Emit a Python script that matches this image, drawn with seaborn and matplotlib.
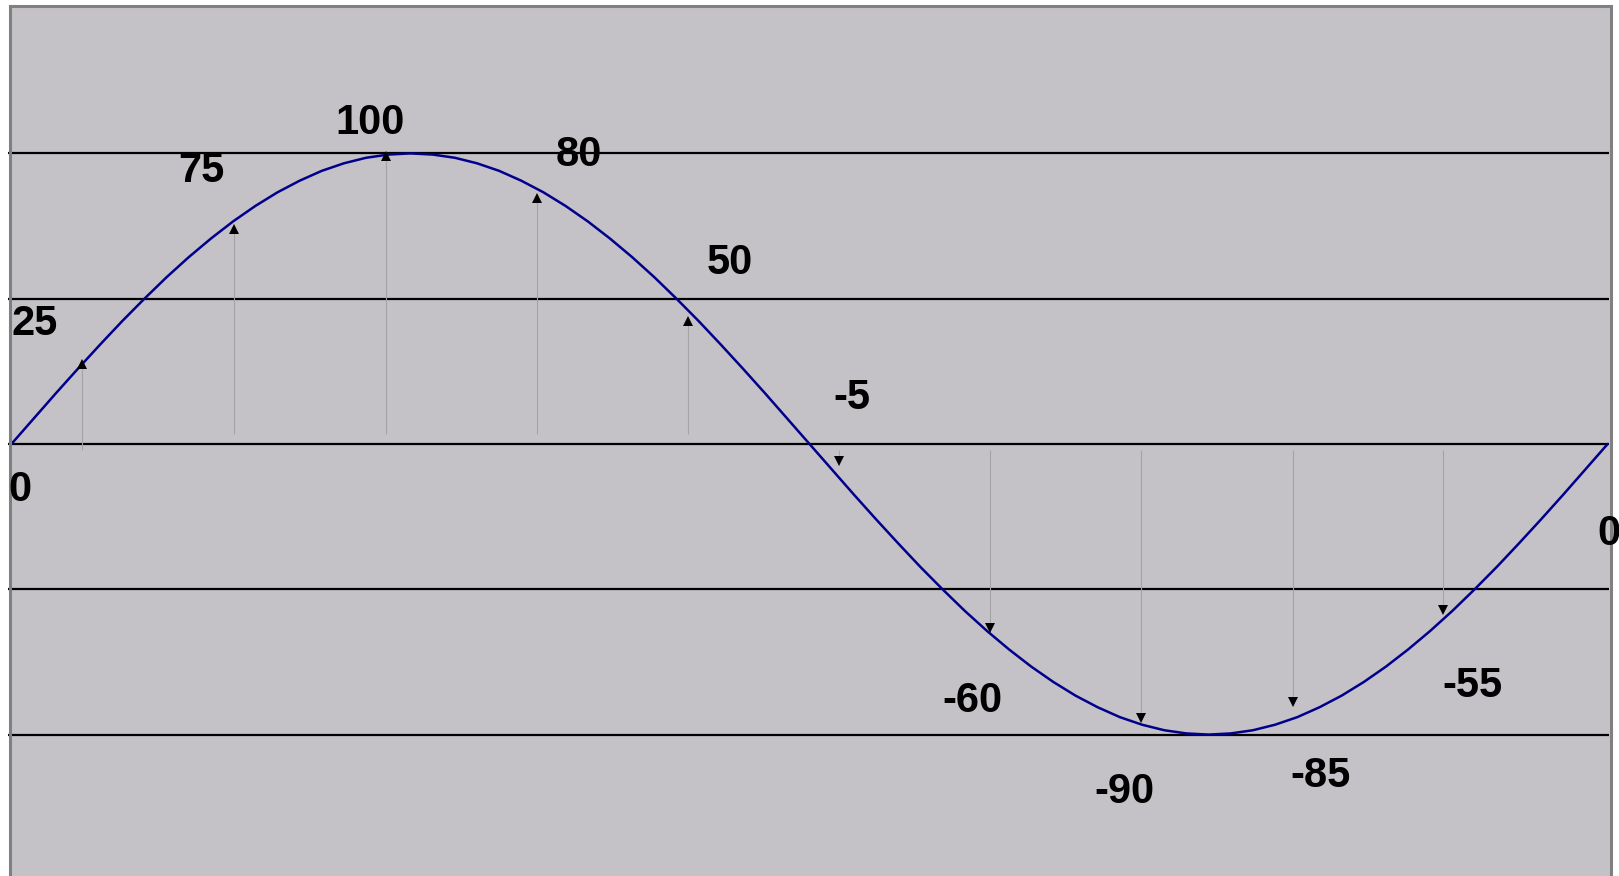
import matplotlib
matplotlib.use('Agg')
import matplotlib.pyplot as plt
import seaborn as sns
from matplotlib.patches import Rectangle

# wave, every 5 degrees over one period
wave_deg = list(range(0, 361, 5))
wave_amp = [0, 8.7, 17.4, 25.9, 34.2, 42.3, 50, 57.4, 64.3, 70.7, 76.6, 81.9, 86.6, 90.6, 94, 96.6, 98.5, 99.6,
            100, 99.6, 98.5, 96.6, 94, 90.6, 86.6, 81.9, 76.6, 70.7, 64.3, 57.4, 50, 42.3, 34.2, 25.9, 17.4, 8.7,
            0, -8.7, -17.4, -25.9, -34.2, -42.3, -50, -57.4, -64.3, -70.7, -76.6, -81.9, -86.6, -90.6, -94, -96.6,
            -98.5, -99.6, -100, -99.6, -98.5, -96.6, -94, -90.6, -86.6, -81.9, -76.6, -70.7, -64.3, -57.4, -50,
            -42.3, -34.2, -25.9, -17.4, -8.7, 0]

# sample arrows
sample_deg = [16, 50.3, 84.4, 118.5, 152.5, 186.7, 220.8, 254.8, 289, 322.9]
sample_tip = [28.9, 75.4, 100.5, 86, 43.7, -7.2, -64.6, -95.6, -90.2, -58.3]

# printed values
labels = ['0', '25', '75', '100', '80', '50', '-5', '-60', '-90', '-85', '-55', '0']

grid_levels = [100, 50, 0, -50, -100]

sns.set_theme(style='white')
plt.rcParams['font.family'] = ['Liberation Sans', 'DejaVu Sans']

fig = plt.figure(figsize=(16.19, 8.76), dpi=100)
fig.patch.set_facecolor('white')

ax = fig.add_axes([0, 0, 1, 1])
ax.patch.set_alpha(0)
ax.set_xlim(-2.571, 362.56)
ax.set_ylim(-148.66, 152.79)
ax.axis('off')

# grey panel with darker frame (bottom runs off the picture)
W, H = 1619.0, 876.0
box = ((9.5 / W, -0.05), (1610.5 - 9.5) / W, 1 - 6 / H + 0.05)
ax.add_patch(Rectangle(*box, transform=fig.transFigure, facecolor='#c4c2c6',
                       edgecolor='none', zorder=0, clip_on=False))
ax.add_patch(Rectangle(*box, transform=fig.transFigure, facecolor='none',
                       edgecolor='#808080', lw=2.2, zorder=5, clip_on=False))

for lv in grid_levels:
    ax.hlines(lv, -0.8, 360.3, color='black', lw=1.6, zorder=2)

# sample arrows: grey shaft, small black head
for i, (d, t) in enumerate(zip(sample_deg, sample_tip)):
    tail = 3.5 if (t > 0 and i > 0) else -2
    ax.vlines(d, tail, t, color='#a4a4a4', lw=0.8, zorder=3)
    if t > 0:
        ax.plot(d, t - 1.3, marker='^', color='black', ms=6.5, mew=0, zorder=4)
    else:
        ax.plot(d, t + 1.3, marker='v', color='black', ms=6.5, mew=0, zorder=4)

sns.lineplot(x=wave_deg, y=wave_amp, ax=ax, color='#00008c', lw=1.8, zorder=3)

label_pos = [(1.85, -20.4), (5.25, 36.9), (42.8, 89.5), (80.9, 106.0), (127.9, 94.9),
             (162.1, 57.7), (189.5, 11.2), (216.8, -92.9), (251.0, -124.2),
             (295.3, -118.8), (329.5, -87.9), (357.6, -35.3)]
for i, (txt, (x, y)) in enumerate(zip(labels, label_pos)):
    ha = 'left' if i == len(labels) - 1 else 'center'
    ax.text(x, y + 0.7, txt, ha=ha, va='baseline', fontsize=30, fontweight='bold',
            color='black', zorder=6)

fig.savefig('out.png', dpi=100)
